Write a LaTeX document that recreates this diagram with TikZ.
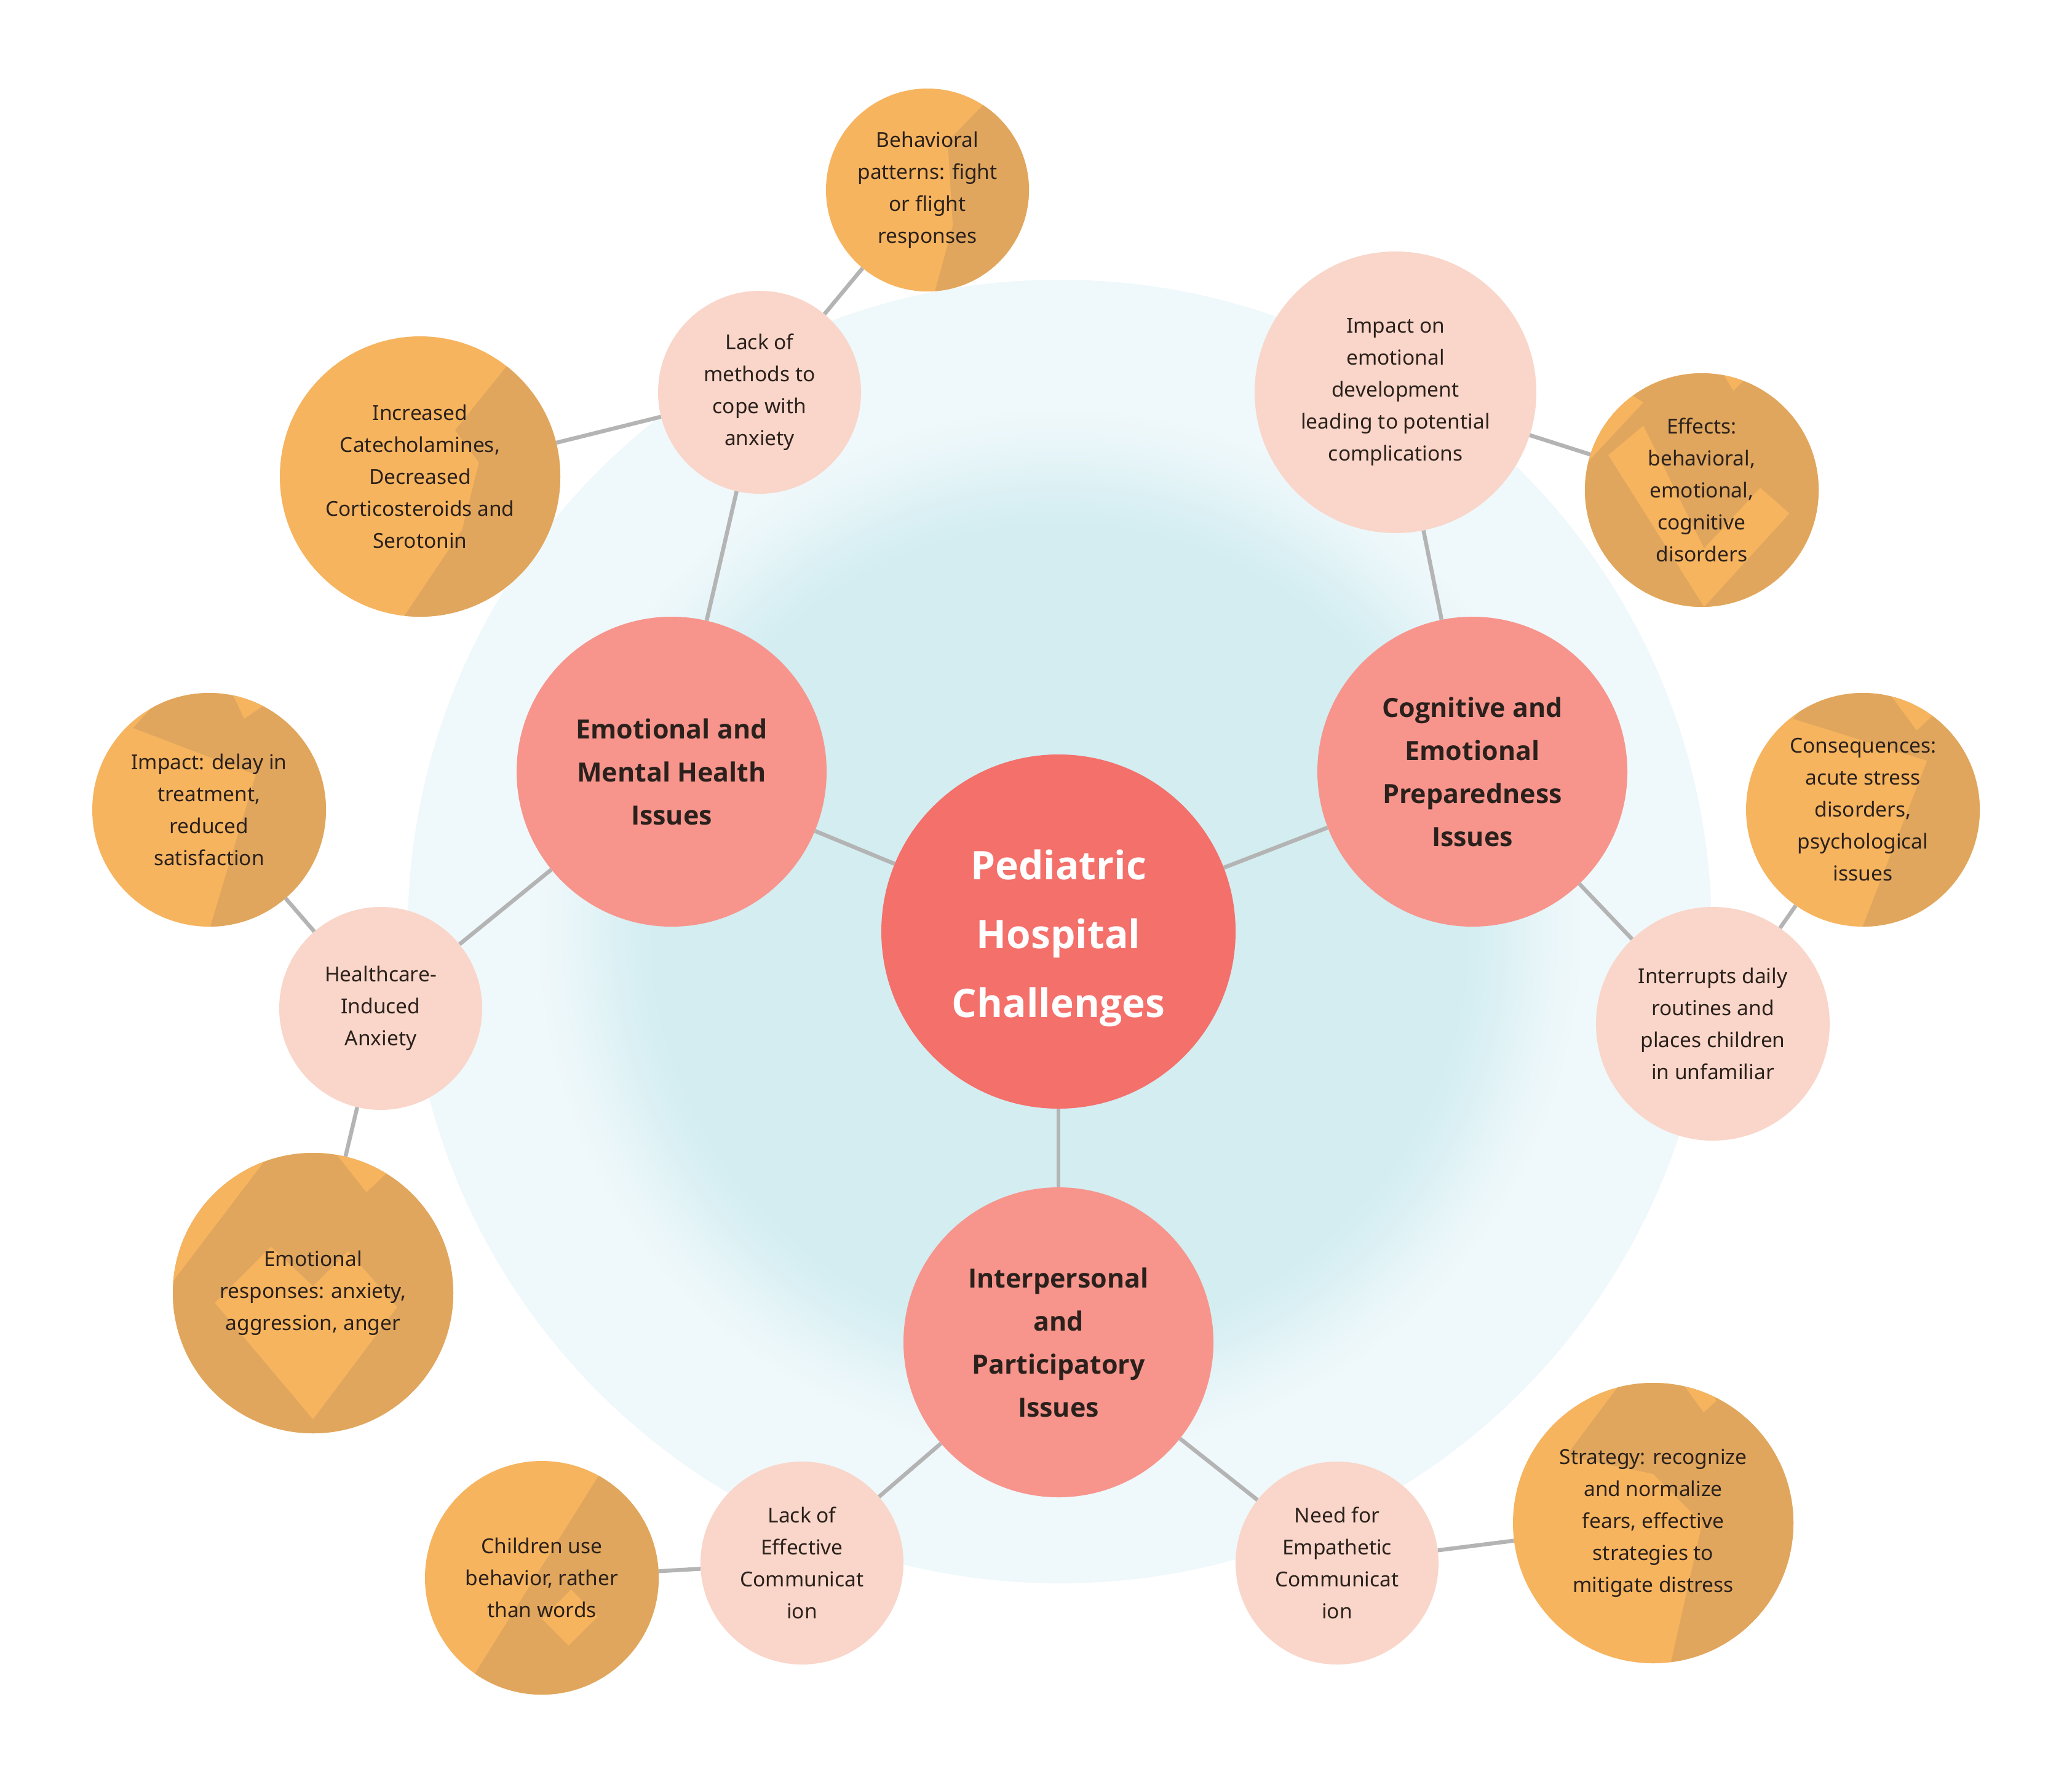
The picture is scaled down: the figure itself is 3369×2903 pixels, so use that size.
\documentclass[tikz,border=0pt]{standalone}
\usepackage{fontspec}
\setmainfont{Noto Sans}
\newfontfamily\titlefont{Open Sans}
\definecolor{bgouter}{HTML}{EFF8FB}
\definecolor{bginner}{HTML}{D3EDF1}
\definecolor{centerc}{HTML}{F4706B}
\definecolor{mainc}{HTML}{F7958D}
\definecolor{subc}{HTML}{F9D6C9}
\definecolor{leafA}{HTML}{F6B45F}
\definecolor{leafB}{HTML}{E0A65D}
\definecolor{edgec}{HTML}{B4B4B4}
\definecolor{txt}{HTML}{2B211C}
\newcommand\mkleaf[5]{%
  \node[leafnode={2*#3}] (#1) at (#2) {};
  \begin{scope}
    \clip (#1.center) circle (#3);
    \begin{scope}[shift={(#1.center)}, scale=#3] #4 \end{scope}
  \end{scope}
  \node[leaftext] (#1T) at (#1.center) {#5};
}
\begin{document}
\begin{tikzpicture}[x=1pt,y=1pt,
  every node/.style={inner sep=0pt, align=center, text=txt},
  centernode/.style={circle, fill=centerc, minimum size=576pt},
  titletext/.style={text=white, font=\titlefont\bfseries\fontsize{64}{112}\selectfont},
  mainnode/.style={circle, fill=mainc, minimum size=504pt, font=\titlefont\bfseries\fontsize{43}{70}\selectfont},
  subnode/.style={circle, fill=subc, minimum size=#1, font=\fontsize{33.5}{52}\selectfont},
  leafnode/.style={circle, fill=leafA, minimum size=#1},
  leaftext/.style={font=\fontsize{33.5}{52}\selectfont},
  link/.style={draw=edgec, line width=6.5pt}]
\useasboundingbox (0,0) rectangle (3369,-2903);
\fill[white] (0,0) rectangle (3369,-2903);

% soft background disc with a darker centre
\fill[bgouter] (1723,-1515) circle (1060);
\foreach \i in {0,...,40}{
  \pgfmathsetmacro\rr{1060*(0.82-0.22*\i/40)}
  \pgfmathsetmacro\tt{\i/40}
  \pgfmathsetmacro\pp{100*\tt*\tt*(3-2*\tt)}
  \fill[bginner!\pp!bgouter] (1723,-1515) circle (\rr);
}

% centre and main topics
\node[centernode] (center) at (1721,-1515) {};
\node[titletext] (centerT) at ([yshift=-11pt]center.center) {Pediatric\\Hospital\\Challenges};
\node[mainnode] (emo) at (1092,-1255) {Emotional and\\Mental Health\\Issues};
\node[mainnode] (cog) at (2394,-1255) {Cognitive and\\Emotional\\Preparedness\\Issues};
\node[mainnode] (inter) at (1721,-2183) {Interpersonal\\and\\Participatory\\Issues};

% sub topics
\node[subnode=330pt] (lack) at (1235,-638) {Lack of\\methods to\\cope with\\anxiety};
\node[subnode=330pt] (hca) at (619,-1640) {Healthcare-\\Induced\\Anxiety};
\node[subnode=458pt] (impdev) at (2269,-638) {Impact on\\emotional\\development\\leading to potential\\complications};
\node[subnode=380pt] (interr) at (2785,-1665) {Interrupts daily\\routines and\\places children\\in unfamiliar};
\node[subnode=330pt] (lackeff) at (1304,-2542) {Lack of\\Effective\\Communicat\\ion};
\node[subnode=330pt] (need) at (2174,-2542) {Need for\\Empathetic\\Communicat\\ion};

% leaves
\mkleaf{beh}{1508,-309}{165}{\fill[leafB] (0.9,1.2) -- (0.2,0.48) -- (0.25,-0.35) -- (0.02,-1.2) -- (1.2,-1.2) -- (1.2,1.2) -- cycle;}
  {Behavioral\\patterns: fight\\or flight\\responses}
\mkleaf{cat}{683,-775}{228}{\fill[leafB] (0.95,1.2) -- (0.25,0.33) -- (0.42,0.1) -- (0.3,-0.38) -- (-0.25,-1.2) -- (1.2,-1.2) -- (1.2,1.2) -- cycle;}
  {Increased\\Catecholamines,\\Decreased\\Corticosteroids and\\Serotonin}
\mkleaf{eff}{2767,-797}{190}{\fill[leafB] (-1.2,-1.2) rectangle (1.2,1.2); \fill[leafA] (-1.2,0.0) -- (-0.5,0.75) -- (-1.2,1.2) -- cycle; \fill[leafA] (-0.8,0.3) -- (0.02,-1.0) -- (0.75,-0.2) -- (0.5,0.02) -- (0.02,-0.5) -- (-0.5,0.55) -- cycle; \fill[leafA] (0.12,1.1) -- (0.27,0.85) -- (0.42,1.0) -- cycle;}
  {Effects:\\behavioral,\\emotional,\\cognitive\\disorders}
\mkleaf{delay}{340,-1317}{190}{\fill[leafB] (-0.2,1.2) -- (-0.65,0.7) -- (0.4,0.3) -- (-0.05,-1.2) -- (1.2,-1.2) -- (1.2,1.2) -- cycle; \fill[leafA] (0.15,1.1) -- (0.3,0.78) -- (0.55,0.95) -- (0.5,1.1) -- cycle;}
  {Impact: delay in\\treatment,\\reduced\\satisfaction}
\mkleaf{emoresp}{509,-2103}{228}{\fill[leafB] (-1.2,-1.2) rectangle (1.2,1.2); \fill[leafA] (-1.2,-0.18) -- (-0.15,1.2) -- (-1.2,1.2) -- cycle; \fill[leafA] (-0.7,-0.07) -- (-0.3,0.33) -- (0,0.05) -- (0.25,0.3) -- (0.6,-0.1) -- (0,-0.9) -- cycle; \fill[leafA] (0.12,1.05) -- (0.38,0.72) -- (0.52,0.85) -- (0.4,1.1) -- cycle;}
  {Emotional\\responses: anxiety,\\aggression, anger}
\mkleaf{conseq}{3029,-1317}{190}{\fill[leafB] (-0.2,1.2) -- (-0.6,0.78) -- (0.55,0.42) -- (-0.08,-1.2) -- (1.2,-1.2) -- (1.2,1.2) -- cycle; \fill[leafA] (0.15,1.1) -- (0.46,0.68) -- (0.7,0.9) -- (0.6,1.1) -- cycle;}
  {Consequences:\\acute stress\\disorders,\\psychological\\issues}
\mkleaf{child}{881,-2566}{190}{\fill[leafB] (0.69,1.2) -- (-0.81,-1.2) -- (1.2,-1.2) -- (1.2,1.2) -- cycle; \fill[leafA] (0.0,-0.35) -- (0.23,-0.58) -- (0.48,-0.33) -- (0.25,-0.1) -- cycle;}
  {Children use\\behavior, rather\\than words}
\mkleaf{strat}{2688,-2477}{228}{\fill[leafB] (-0.08,1.2) -- (-0.62,0.48) -- (0.0,0.35) -- (0.35,0.0) -- (0.08,-1.2) -- (1.2,-1.2) -- (1.2,1.2) -- cycle; \fill[leafA] (0.17,1.05) -- (0.36,0.79) -- (0.45,0.87) -- (0.35,1.1) -- cycle;}
  {Strategy: recognize\\and normalize\\fears, effective\\strategies to\\mitigate distress}

% connectors
\draw[link] (center) -- (emo);
\draw[link] (center) -- (cog);
\draw[link] (center) -- (inter);
\draw[link] (emo) -- (lack);
\draw[link] (emo) -- (hca);
\draw[link] (lack) -- (beh);
\draw[link] (lack) -- (cat);
\draw[link] (hca) -- (delay);
\draw[link] (hca) -- (emoresp);
\draw[link] (cog) -- (impdev);
\draw[link] (cog) -- (interr);
\draw[link] (impdev) -- (eff);
\draw[link] (interr) -- (conseq);
\draw[link] (inter) -- (lackeff);
\draw[link] (inter) -- (need);
\draw[link] (lackeff) -- (child);
\draw[link] (need) -- (strat);
\end{tikzpicture}
\end{document}
